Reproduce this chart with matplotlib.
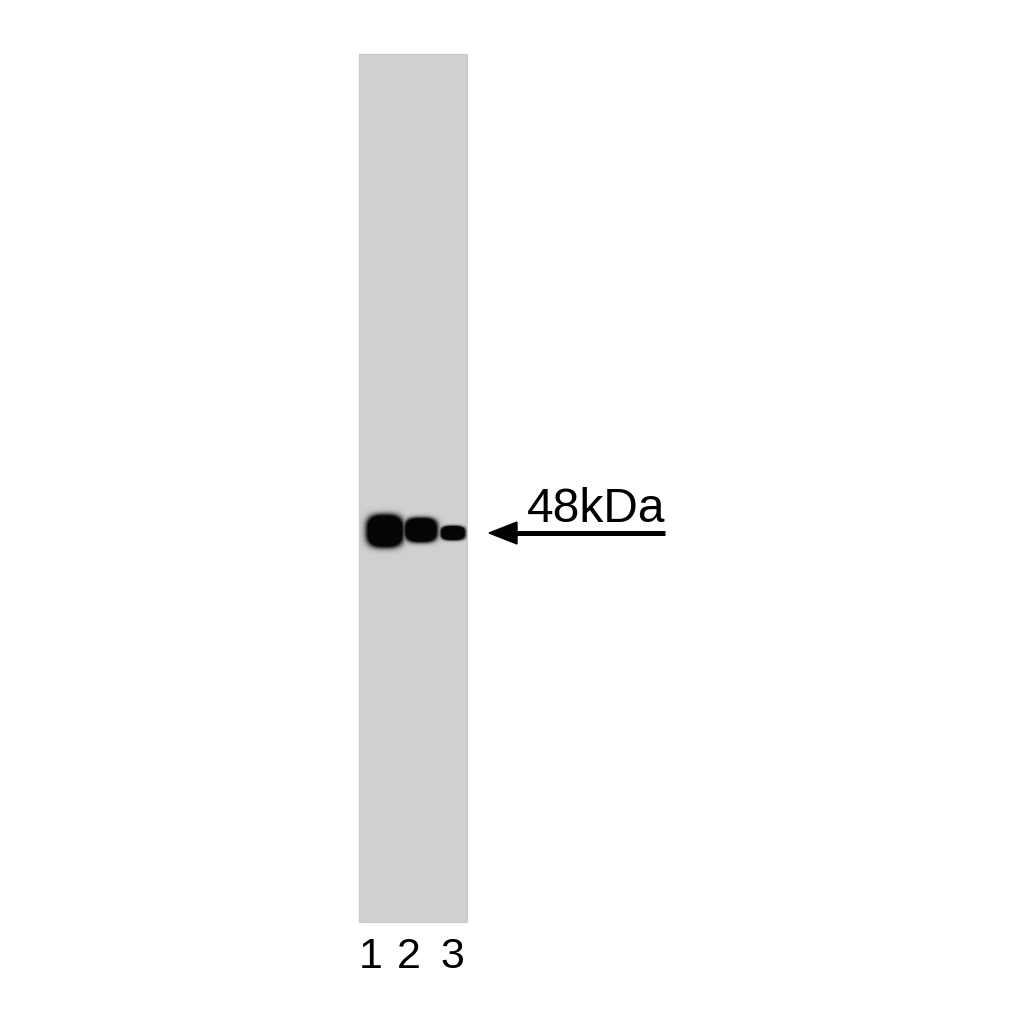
import numpy as np
import matplotlib
matplotlib.use("Agg")
import matplotlib.pyplot as plt
from matplotlib.patches import Rectangle, Polygon

# Data
lanes = ["1", "2", "3"]
lane_x = [385, 421, 453]          # band centres (px)
band_y = [531, 530, 533]
band_half_w = [18, 16, 12]
band_half_h = [16, 12, 7]
marker_label = "48kDa"

W = H = 1024
fig = plt.figure(figsize=(10.24, 10.24), dpi=100)
ax = fig.add_axes([0, 0, 1, 1])
ax.set_xlim(0, W)
ax.set_ylim(H, 0)
ax.axis("off")

# gel
gx0, gx1, gy0, gy1 = 359, 467, 54, 922
xs = np.arange(gx0, gx1) + 0.5
ys = np.arange(gy0, gy1) + 0.5
X, Y = np.meshgrid(xs, ys)
dark = np.zeros_like(X)
for cx, cy, a, b in zip(lane_x, band_y, band_half_w, band_half_h):
    r = ((np.abs(X - cx) / a) ** 3 + (np.abs(Y - cy) / b) ** 3) ** (1 / 3)
    d = 1 / (1 + np.exp((r - 1.05) * 10))
    dark = np.maximum(dark, np.clip(d * 1.3, 0, 1))
bg = 0.816
img = bg * (1 - dark) + 0.02 * dark
ax.imshow(img, cmap="gray", vmin=0, vmax=1, extent=(gx0, gx1, gy1, gy0),
          interpolation="bilinear", zorder=1)
ax.add_patch(Rectangle((gx0, gy0), gx1 - gx0, gy1 - gy0, fill=False,
                       edgecolor="#c8c8c8", lw=0.8, zorder=2))

# arrow
ay = 533
ax.plot([508, 665], [ay, ay], color="black", lw=3.6, solid_capstyle="butt", zorder=3)
ax.add_patch(Polygon([[489, ay], [517, ay - 11], [517, ay + 11]], closed=True,
                     color="black", zorder=3))
ax.text(527, 522, marker_label, fontsize=34.5, family="Liberation Sans",
        ha="left", va="baseline", zorder=3)

# lane labels
label_x = [371, 409, 452]
for lx, lab in zip(label_x, lanes):
    ax.text(lx, 968, lab, fontsize=31, family="Liberation Sans",
            ha="center", va="baseline")

fig.savefig("out.png", dpi=100, facecolor="white")
